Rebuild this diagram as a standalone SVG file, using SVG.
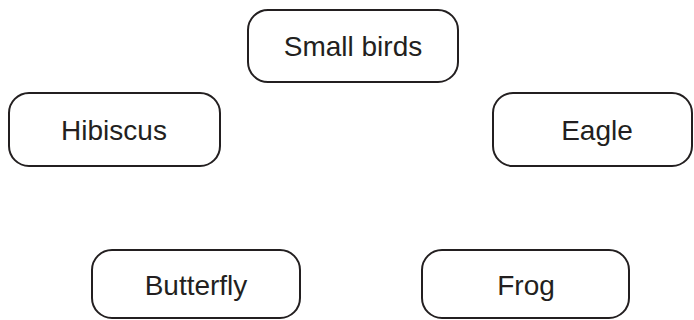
<svg xmlns="http://www.w3.org/2000/svg" width="694" height="320" viewBox="0 0 694 320">
<style>
.box{fill:#fff;stroke:#231f20;stroke-width:2}
.lbl{font-family:"Liberation Sans",Arial,sans-serif;font-size:28px;fill:#231f20;text-anchor:middle}
</style>
<rect width="694" height="320" fill="#fff"/>
<g id="connectors"></g>
<g id="small-birds"><rect class="box" x="248" y="10" width="210" height="72" rx="20"/><text class="lbl" x="353" y="56">Small birds</text></g>
<g id="hibiscus"><rect class="box" x="9" y="93" width="211" height="73" rx="20"/><text class="lbl" x="114" y="140">Hibiscus</text></g>
<g id="eagle"><rect class="box" x="493" y="93" width="199" height="73" rx="20"/><text class="lbl" x="597" y="140">Eagle</text></g>
<g id="butterfly"><rect class="box" x="92" y="250" width="208" height="68" rx="20"/><text class="lbl" x="196" y="295">Butterfly</text></g>
<g id="frog"><rect class="box" x="422" y="250" width="207" height="68" rx="20"/><text class="lbl" x="526" y="295">Frog</text></g>
</svg>
